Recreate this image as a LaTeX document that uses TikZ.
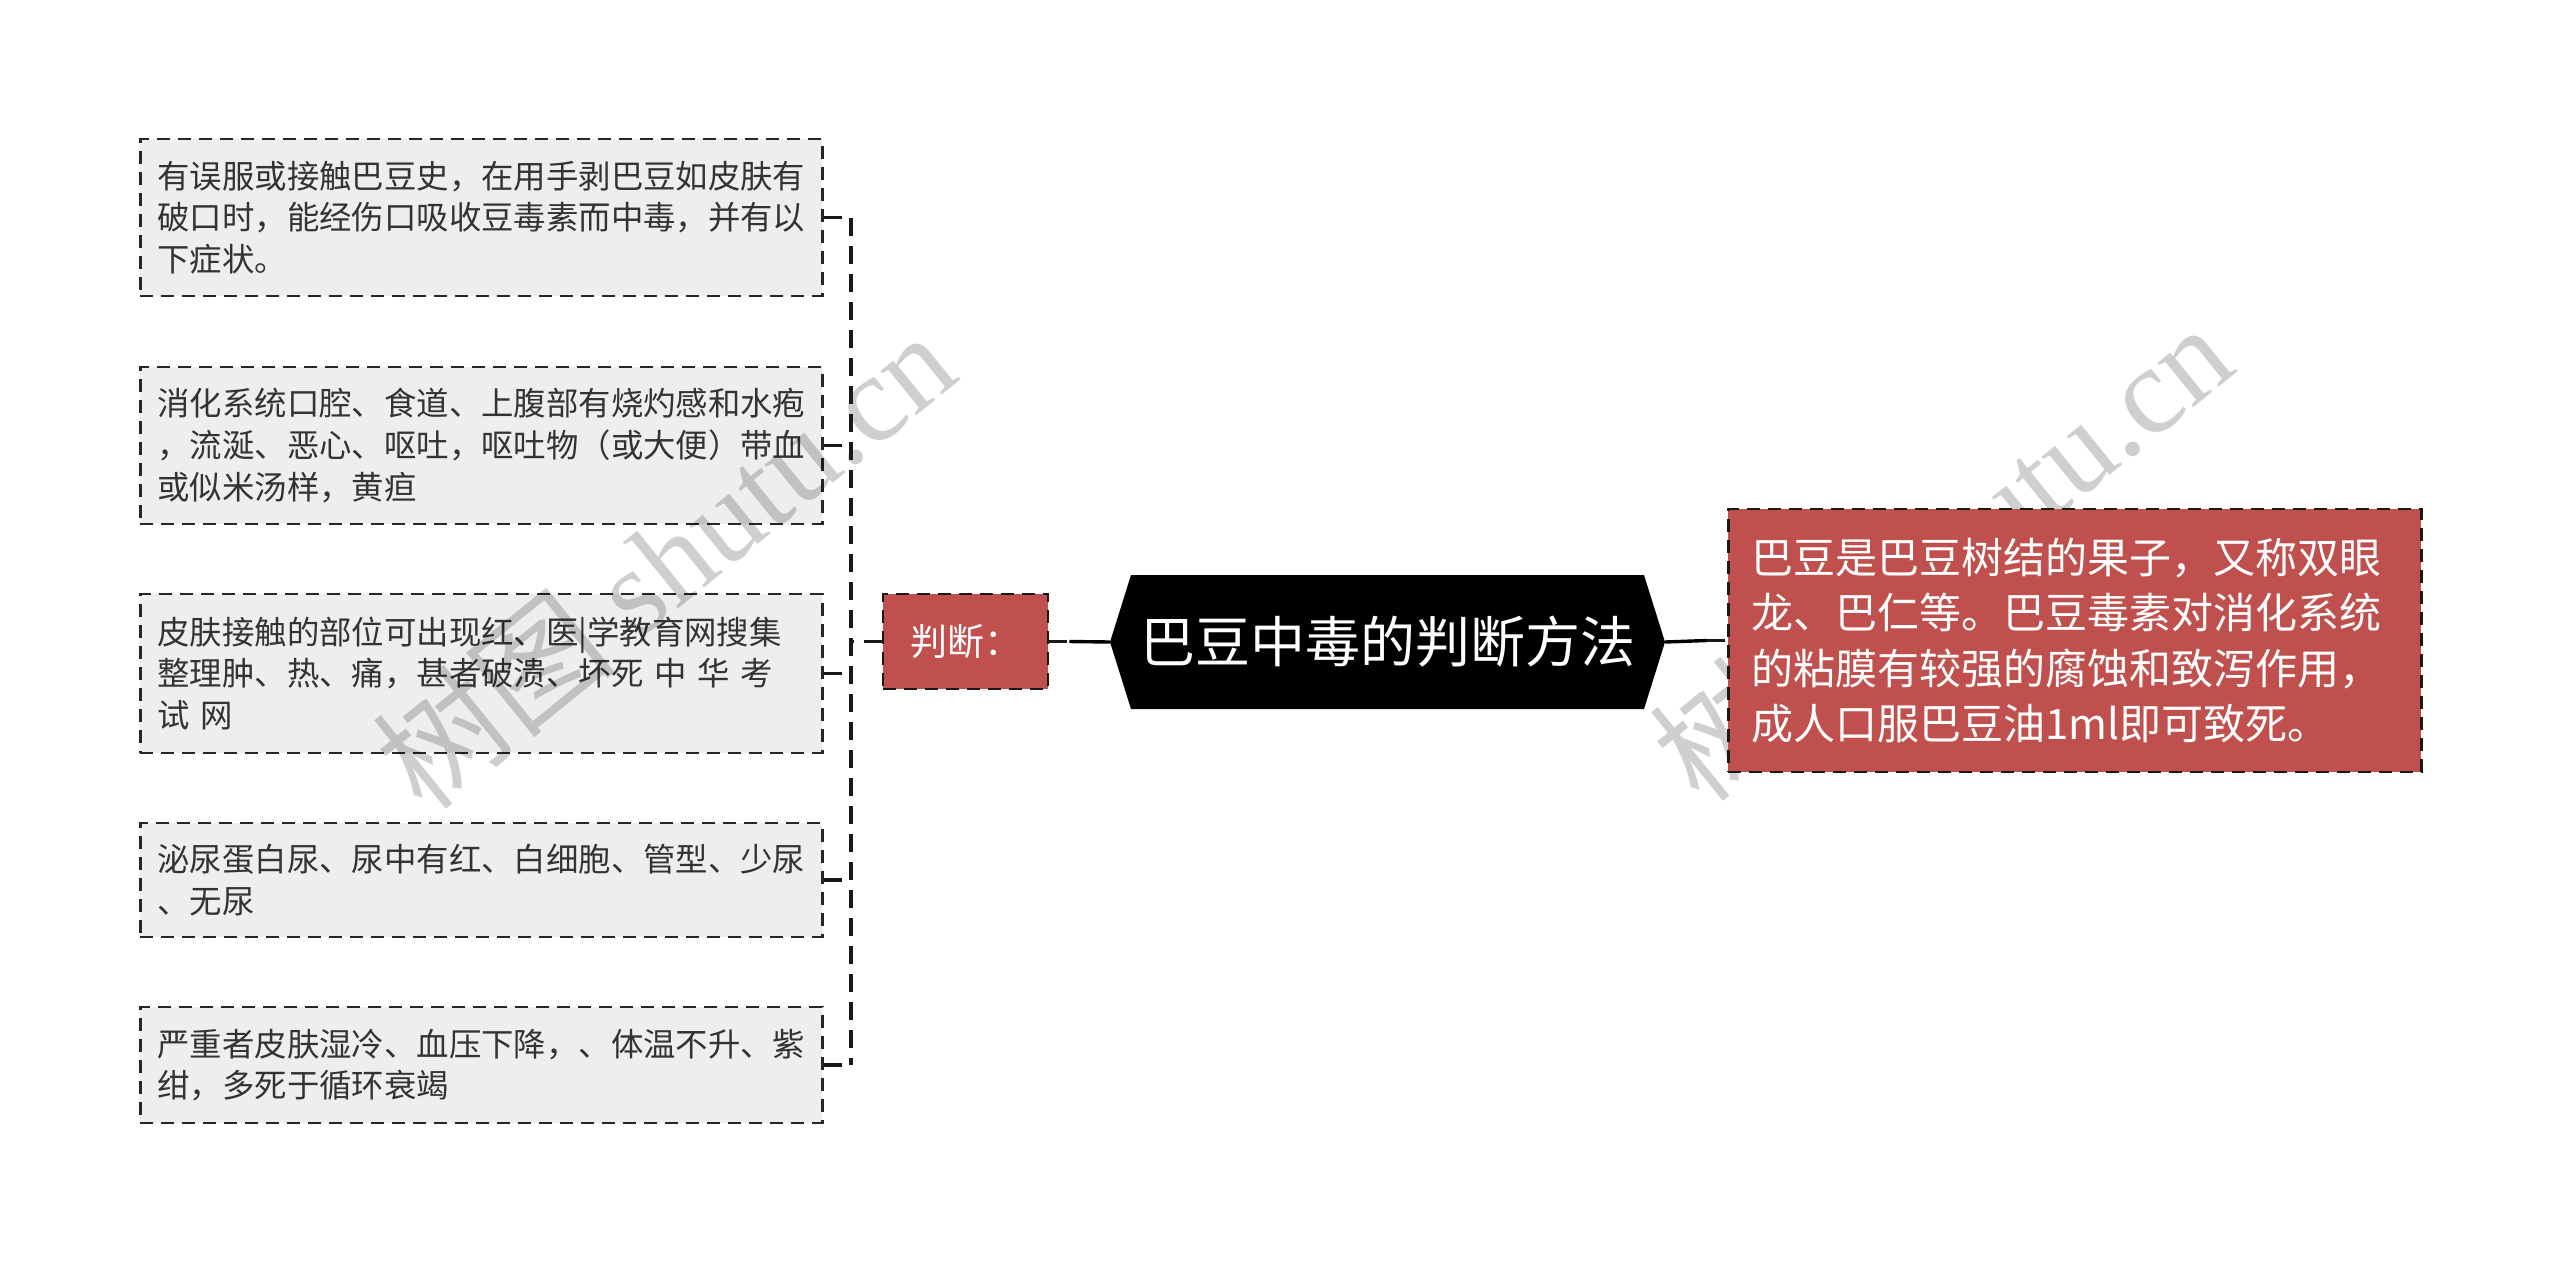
\documentclass[tikz,border=0pt]{standalone}
\usepackage{fontspec}
\setmainfont{Noto Sans CJK SC}
\newfontfamily\wmlatin{Liberation Serif}
\definecolor{nodered}{RGB}{192,80,77}
\definecolor{boxgray}{RGB}{238,238,238}
\definecolor{txtgray}{RGB}{51,51,51}
\begin{document}
\begin{tikzpicture}[x=1pt,y=1pt,
  dsh/.style={dash pattern=on 13pt off 8pt},
  conn/.style={draw=black!90, line width=3.2pt, dash pattern=on 18pt off 10pt},
  solidconn/.style={draw=black, line width=3.4pt},
  lbox/.style={draw=black!85, line width=2.8pt, dsh, fill=boxgray, text=txtgray,
    anchor=west, align=left, text width=648pt, inner xsep=17pt, inner ysep=0pt,
    font=\fontsize{32.4}{41.7}\selectfont},
  redbox/.style={draw=black!90, line width=2.8pt, dsh, fill=nodered, text=white},
  wmark/.style={text=black, text opacity=0.19, rotate=39, inner sep=0pt,
    font=\fontsize{124}{124}\selectfont}
]
\fill[white] (0,0) rectangle (2560,-1264);
\useasboundingbox (0,0) rectangle (2560,-1264);

% left boxes
\node[lbox, minimum height=157pt] (b1) at (139,-217.5)
  {有误服或接触巴豆史，在用手剥巴豆如皮肤有\\破口时，能经伤口吸收豆毒素而中毒，并有以\\下症状。};
\node[lbox, minimum height=157pt] (b2) at (139,-445.5)
  {消化系统口腔、食道、上腹部有烧灼感和水疱\\，流涎、恶心、呕吐，呕吐物（或大便）带血\\或似米汤样，黄疸};
\node[lbox, minimum height=159pt] (b3) at (139,-673.5)
  {皮肤接触的部位可出现红、医|学教育网搜集\\整理肿、热、痛，甚者破溃、坏死 中 华 考\\试 网};
\node[lbox, minimum height=114pt] (b4) at (139,-880)
  {泌尿蛋白尿、尿中有红、白细胞、管型、少尿\\、无尿};
\node[lbox, minimum height=116pt] (b5) at (139,-1065)
  {严重者皮肤湿冷、血压下降，、体温不升、紫\\绀，多死于循环衰竭};

% watermarks
\node[wmark] (wm1) at (664,-560) {树图 {\wmlatin shutu.cn}};
\node[wmark] (wm2) at (1941,-552) {树图 {\wmlatin shutu.cn}};

% judge node
\node[redbox, minimum width=165pt, minimum height=95pt, inner sep=0pt,
  font=\fontsize{37}{40}\selectfont] (pd) at (965.5,-641.5) {判断：};

% root hexagon
\node[minimum width=555pt, minimum height=134pt, inner sep=0pt, text=white,
  font=\fontsize{55}{60}\selectfont,
  path picture={\fill[black] (path picture bounding box.west)
     -- ([xshift=21pt]path picture bounding box.north west)
     -- ([xshift=-21pt]path picture bounding box.north east)
     -- (path picture bounding box.east)
     -- ([xshift=-21pt]path picture bounding box.south east)
     -- ([xshift=21pt]path picture bounding box.south west) -- cycle;}]
  (root) at (1387.5,-642) {巴豆中毒的判断方法};

% right box
\node[redbox, anchor=west, align=left, text width=647pt, inner xsep=23pt, inner ysep=0pt,
  minimum height=263pt, font=\fontsize{42}{55.5}\selectfont] (rb) at (1727,-640.5)
  {巴豆是巴豆树结的果子，又称双眼\\龙、巴仁等。巴豆毒素对消化系统\\的粘膜有较强的腐蚀和致泻作用，\\成人口服巴豆油1ml即可致死。};

% connectors
\coordinate (jx) at (851,-641.5);
\draw[conn] (pd.west) -- (jx);
\draw[conn] (b1.east -| jx) -- (b5.east -| jx);
\foreach \b in {b1,b2,b3,b4,b5} {
  \draw[conn] (\b.east) -- (\b.east -| jx);
}
\coordinate (pdm) at ([xshift=20pt]pd.east);
\draw[conn] (pd.east) -- (pdm);
\draw[solidconn] (pdm) -- (root.west);
\coordinate (rbm) at ([xshift=-20pt]rb.west);
\draw[solidconn] (root.east) -- (rbm);
\draw[conn] (rbm) -- (rb.west);
\end{tikzpicture}
\end{document}
